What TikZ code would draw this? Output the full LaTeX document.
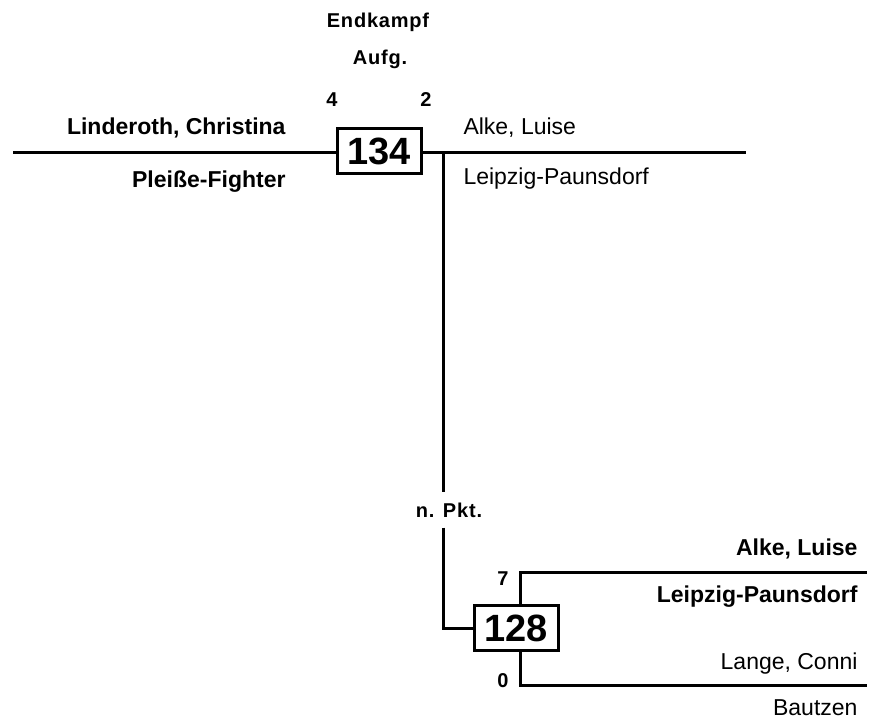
\documentclass[tikz,border=0pt]{standalone}
\usepackage{fontspec}
\setmainfont{Liberation Sans}
\usetikzlibrary{positioning}

\begin{document}
\begin{tikzpicture}[x=1pt,y=-1pt,line width=3pt,
        match/.style={draw,line width=3pt,minimum width=84pt,minimum height=45pt,inner sep=0pt,font=\bfseries\fontsize{38}{38}\selectfont},
        player/.style={inner sep=0pt,font=\fontsize{23}{23}\selectfont},
        winner/.style={inner sep=0pt,font=\bfseries\fontsize{23}{23}\selectfont},
        tag/.style={inner sep=0pt,font=\bfseries\fontsize{20}{20}\selectfont\addfontfeature{LetterSpace=4}}]
        \useasboundingbox (0,0) rectangle (873,722);
        \node[match] (m134) at (379,151) {134};
        \node[match] (m128) at (516,628) {128};

        \node[tag,anchor=base] (title) at (378,28) {Endkampf};
        \node[tag,anchor=base] (mode) at (380,65) {Aufg.};
        \node[tag,anchor=base] (s4) at (332,107) {4};
        \node[tag,anchor=base] (s2) at (426,107) {2};
        \node[tag,anchor=base,inner ysep=9pt] (npkt) at (449,517) {n. Pkt.};
        \node[tag,anchor=base] (s7) at (503,585) {7};
        \node[tag,anchor=base] (s0) at (503,687) {0};

        \node[winner,anchor=base east] (p1) at (287,135) {Linderoth, Christina};
        \node[winner,anchor=base east] (c1) at (287,188) {Pleiße-Fighter};
        \node[player,anchor=base west] (p2) at (462,135) {Alke, Luise};
        \node[player,anchor=base west] (c2) at (462,185) {Leipzig-Paunsdorf};
        \node[winner,anchor=base east] (p3) at (859,555) {Alke, Luise};
        \node[winner,anchor=base east] (c3) at (859,602) {Leipzig-Paunsdorf};
        \node[player,anchor=base east] (p4) at (859,669) {Lange, Conni};
        \node[player,anchor=base east] (c4) at (859,715) {Bautzen};

        \coordinate (left) at (13,153);
        \coordinate (right) at (746,153);
        \coordinate (fork) at (443,153);
        \coordinate (up) at (867,572);
        \coordinate (down) at (867,685);

        \draw (left) -- (m134.west |- left);
        \draw (m134.east |- right) -- (right);
        \draw (fork) -- (fork |- npkt.north);
        \draw (fork |- npkt.south) |- (m128.west);
        \draw ([xshift=4pt]m128.north) |- (up);
        \draw ([xshift=4pt]m128.south) |- (down);
\end{tikzpicture}
\end{document}
